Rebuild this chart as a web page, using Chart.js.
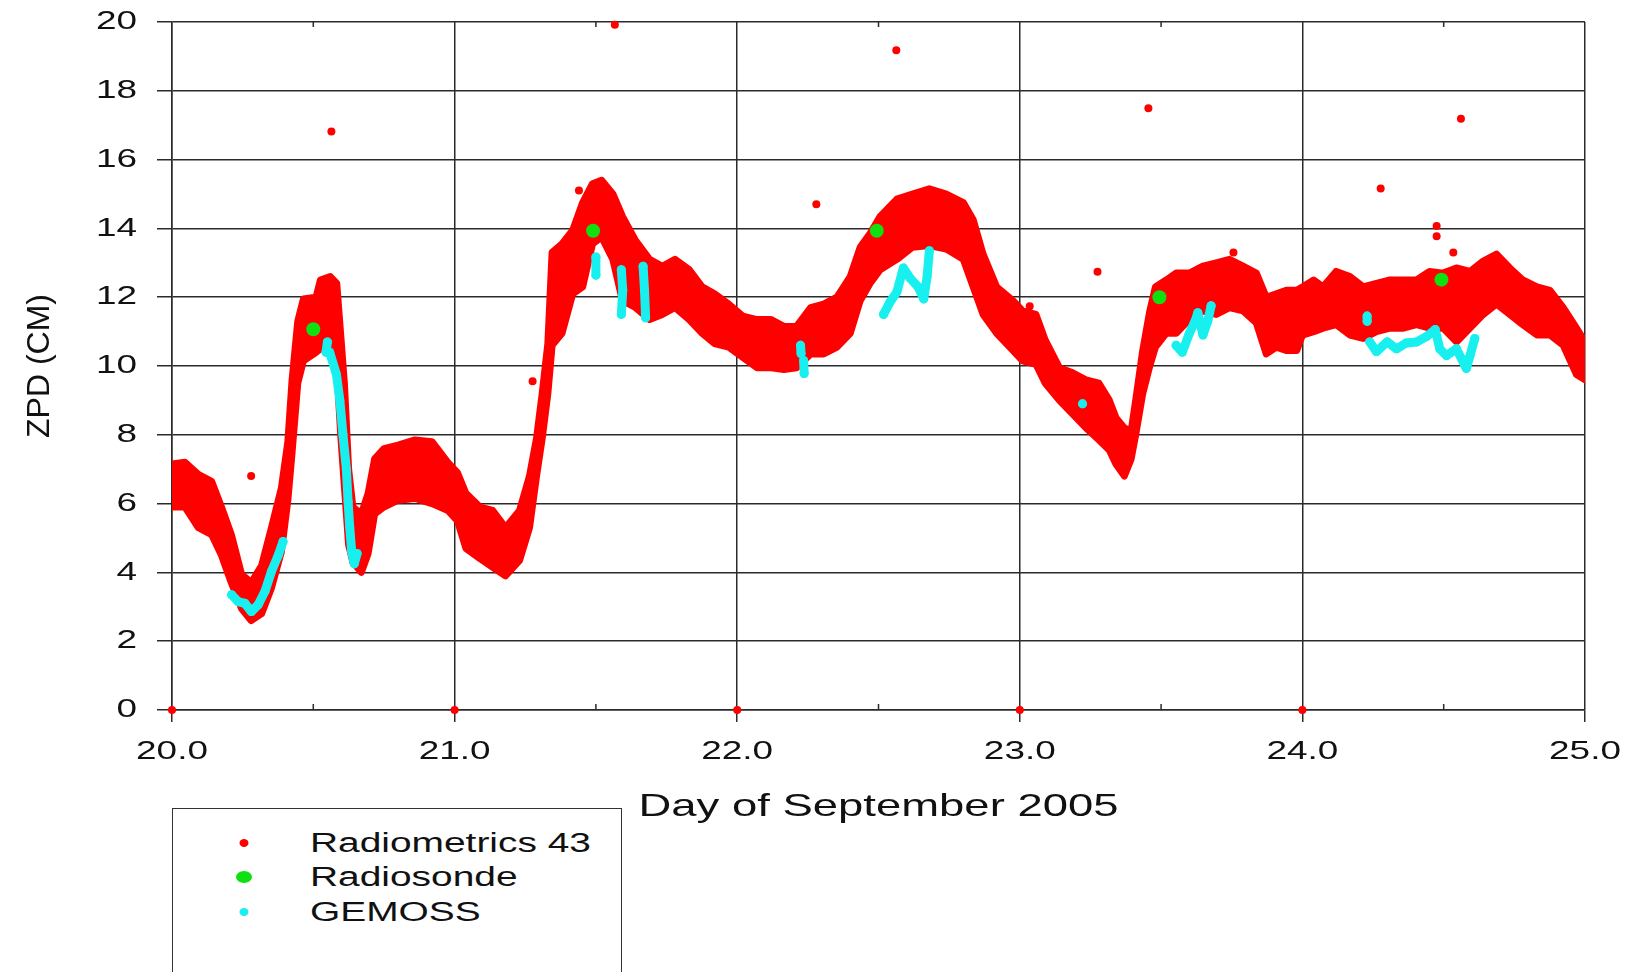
<!DOCTYPE html>
<html>
<head>
<meta charset="utf-8">
<title>ZPD - September 2005</title>
<script src="https://cdn.jsdelivr.net/npm/chart.js@4.4.1/dist/chart.umd.min.js"></script>
<style>
  body { margin: 0; background: #fff; overflow: hidden; }
  #wrap { position: relative; width: 1634px; height: 972px; }
  .legend-box {
    position: absolute; left: 172px; top: 808px; width: 450px; height: 220px;
    border: 1.5px solid #333; box-sizing: border-box; background: #fff;
    font-family: "Liberation Sans", Arial, sans-serif; font-size: 27px; color: #111;
  }
  .legend-row { position: absolute; left: 0; height: 30px; width: 100%; }
  .legend-row .mark { position: absolute; border-radius: 50%; transform: translate(-50%, -50%); left: 71px; top: 15px; }
  .legend-row .txt { position: absolute; left: 137px; top: 0; line-height: 30px; transform: scaleX(1.44); transform-origin: left center; white-space: nowrap; }
</style>
</head>
<body>
<div id="wrap">
  <canvas id="zpdChart" width="1634" height="972"></canvas>
  <div class="legend-box">
    <div class="legend-row" style="top:19px"><span class="mark" style="width:9px;height:8px;background:#ff0000"></span><span class="txt">Radiometrics 43</span></div>
    <div class="legend-row" style="top:53px"><span class="mark" style="width:16px;height:12px;background:#10e010"></span><span class="txt">Radiosonde</span></div>
    <div class="legend-row" style="top:88px"><span class="mark" style="width:9px;height:8px;background:#18f0f0"></span><span class="txt">GEMOSS</span></div>
  </div>
</div>
<script>
// Radiometrics 43 band: upper / lower edge of the dense red point cloud
const ribbonDays = [20.0, 20.046, 20.093, 20.14, 20.175, 20.21, 20.246, 20.28, 20.317, 20.352,
  20.387, 20.41, 20.425, 20.445, 20.465, 20.51, 20.525, 20.56, 20.583, 20.597,
  20.61, 20.625, 20.64, 20.67, 20.694, 20.717, 20.75, 20.80, 20.86, 20.92,
  20.976, 21.01, 21.04, 21.09, 21.135, 21.18, 21.23, 21.265, 21.29, 21.31,
  21.33, 21.345, 21.38, 21.418, 21.453, 21.488, 21.52, 21.56, 21.594, 21.64,
  21.69, 21.735, 21.78, 21.83, 21.876, 21.92, 21.97, 22.02, 22.07, 22.12,
  22.165, 22.21, 22.26, 22.306, 22.353, 22.40, 22.435, 22.47, 22.506, 22.565,
  22.62, 22.68, 22.74, 22.80, 22.835, 22.87, 22.918, 22.976, 23.01, 23.057,
  23.09, 23.14, 23.187, 23.234, 23.28, 23.317, 23.34, 23.37, 23.394, 23.41,
  23.435, 23.46, 23.48, 23.518, 23.553, 23.60, 23.648, 23.695, 23.742, 23.79,
  23.837, 23.872, 23.908, 23.943, 23.98, 24.0, 24.04, 24.073, 24.12, 24.168,
  24.215, 24.262, 24.31, 24.357, 24.404, 24.45, 24.498, 24.545, 24.593, 24.64,
  24.687, 24.734, 24.78, 24.83, 24.876, 24.923, 24.97, 25.0];
const ribbonUpper = [7.15, 7.2, 6.85, 6.65, 5.9, 5.1, 3.95, 3.7, 4.2, 5.3,
  6.45, 7.8, 9.6, 11.3, 11.95, 12.0, 12.5, 12.6, 12.4, 10.9,
  9.5, 7.0, 5.9, 5.7, 6.3, 7.3, 7.6, 7.7, 7.85, 7.8,
  7.2, 6.9, 6.3, 5.9, 5.8, 5.3, 5.8, 6.8, 7.9, 9.2,
  10.65, 13.3, 13.55, 13.95, 14.75, 15.3, 15.4, 15.0, 14.35, 13.65,
  13.1, 12.9, 13.1, 12.8, 12.3, 12.1, 11.8, 11.45, 11.35, 11.35,
  11.15, 11.15, 11.7, 11.8, 12.0, 12.6, 13.45, 13.85, 14.35, 14.85,
  15.0, 15.15, 15.0, 14.75, 14.25, 13.25, 12.3, 11.9, 11.6, 11.5,
  10.75, 9.95, 9.8, 9.6, 9.5, 9.0, 8.5, 8.2, 8.1, 9.0,
  10.45, 11.6, 12.3, 12.5, 12.7, 12.7, 12.9, 13.0, 13.1, 12.9,
  12.7, 12.0, 12.1, 12.2, 12.2, 12.3, 12.5, 12.3, 12.75, 12.6,
  12.3, 12.4, 12.5, 12.5, 12.5, 12.75, 12.7, 12.85, 12.75, 13.05,
  13.25, 12.85, 12.5, 12.3, 12.2, 11.7, 11.1, 10.7];
const ribbonLower = [5.9, 5.9, 5.3, 5.1, 4.5, 3.7, 2.95, 2.6, 2.8, 3.55,
  4.6, 6.1, 7.5, 9.5, 10.15, 10.4, 10.5, 10.6, 10.0, 8.0,
  6.5, 4.8, 4.3, 4.0, 4.55, 5.7, 5.9, 6.1, 6.15, 6.0,
  5.8, 5.5, 4.7, 4.4, 4.15, 3.9, 4.35, 5.3, 6.8, 7.9,
  9.2, 10.6, 10.95, 12.1, 12.3, 13.55, 13.75, 13.1, 11.9, 11.7,
  11.35, 11.5, 11.7, 11.35, 10.95, 10.65, 10.55, 10.25, 9.95, 9.95,
  9.9, 9.95, 10.35, 10.35, 10.55, 10.95, 11.9, 12.4, 12.8, 13.1,
  13.45, 13.5, 13.4, 13.1, 12.3, 11.5, 10.95, 10.45, 10.15, 10.05,
  9.5, 9.0, 8.6, 8.2, 7.85, 7.55, 7.15, 6.8, 7.3, 8.0,
  9.2, 10.0, 10.55, 10.95, 10.95, 11.35, 11.6, 11.5, 11.7, 11.6,
  11.25, 10.35, 10.55, 10.45, 10.45, 10.9, 11.0, 11.1, 11.2, 10.9,
  10.8, 11.0, 11.1, 11.1, 11.2, 11.1, 11.1, 10.7, 11.1, 11.5,
  11.8, 11.5, 11.2, 10.9, 10.9, 10.6, 9.75, 9.6];

// Radiometrics 43 scattered points outside the band
const outlierDays = [20.0, 21.0, 22.0, 23.0, 24.0, 20.28, 20.564, 21.276, 21.44, 21.567,
  22.28, 22.54, 22.563, 23.035, 23.275, 23.455, 23.636, 23.756, 24.277, 24.475,
  24.475, 24.534, 24.561];
const outlierZpd = [0, 0, 0, 0, 0, 6.8, 16.82, 9.56, 15.1, 19.92,
  14.7, 14.6, 19.18, 11.74, 12.74, 17.49, 12.83, 13.3, 15.16, 14.07,
  13.77, 13.3, 17.19];

// Radiosonde launches
const sondeDays = [20.5, 21.49, 22.494, 23.494, 24.492];
const sondeZpd = [11.07, 13.93, 13.93, 12.0, 12.51];

// GEMOSS (null splits the separate runs)
const gemossDays = [20.211, 20.234, 20.258, 20.281, 20.305, 20.329, 20.352, 20.376, 20.393, null,
  20.55, 20.545, 20.558, 20.582, 20.594, 20.605, 20.617, 20.623, 20.629, 20.636, 20.645, 20.655, null,
  21.5, 21.5, null,
  21.59, 21.595, 21.59, null,
  21.667, 21.672, 21.676, null,
  22.224, 22.226, null,
  22.235, 22.237, null,
  22.518, 22.54, 22.565, 22.588, 22.612, 22.64, 22.66, 22.672, 22.68, null,
  23.222, null,
  23.553, 23.575, 23.6, 23.62, 23.63, 23.648, 23.665, 23.677, null,
  24.229, 24.229, null,
  24.238, 24.262, 24.3, 24.333, 24.368, 24.404, 24.44, 24.47, 24.486, 24.51, 24.545, 24.58, 24.593, 24.61];
const gemossZpd = [3.35, 3.15, 3.1, 2.86, 3.06, 3.45, 4.03, 4.5, 4.9, null,
  10.7, 10.4, 10.4, 9.75, 9.0, 8.0, 7.0, 6.07, 5.3, 4.6, 4.25, 4.55, null,
  13.17, 12.64, null,
  12.8, 12.2, 11.5, null,
  12.9, 12.2, 11.4, null,
  10.6, 10.36, null,
  10.16, 9.78, null,
  11.5, 11.85, 12.15, 12.85, 12.55, 12.3, 11.95, 12.6, 13.35, null,
  8.9, null,
  10.6, 10.4, 10.95, 11.3, 11.55, 10.9, 11.3, 11.75, null,
  11.45, 11.3, null,
  10.7, 10.42, 10.7, 10.5, 10.67, 10.7, 10.86, 11.06, 10.5, 10.3, 10.5, 9.93, 10.3, 10.8];

const xTicks = [20, 21, 22, 23, 24, 25];
const minorXTicks = [20.5, 21.5, 22.5, 23.5, 24.5];

const RED = '#ff0000';
const GREEN = '#10e010';
const CYAN = '#18f0f0';
const INK = '#111111';
const GRID = '#2b2b2b';
const FONT = '"Liberation Sans", Arial, sans-serif';
const TEXT_STRETCH = 1.42; // source lettering is drawn wide

const toPoints = (xs, ys) => xs.map((x, i) => ({ x: x, y: ys[i] }));

// widen horizontal lettering the way the original plot renders it
const wideText = {
  id: 'wideText',
  beforeInit(chart) {
    const ctx = chart.ctx;
    const fill = ctx.fillText.bind(ctx);
    ctx.fillText = (text, x, y) => {
      if (ctx.getTransform().b !== 0) return fill(text, x, y); // rotated title
      ctx.save();
      ctx.translate(x, y);
      ctx.scale(TEXT_STRETCH, 1);
      fill(text, 0, 0);
      ctx.restore();
    };
  }
};

// small half-day ticks on the top and bottom frame
const minorTicks = {
  id: 'minorTicks',
  afterDraw(chart) {
    const { ctx, chartArea, scales } = chart;
    ctx.save();
    ctx.strokeStyle = GRID;
    ctx.lineWidth = 1.5;
    minorXTicks.forEach(v => {
      const px = scales.x.getPixelForValue(v);
      ctx.beginPath();
      ctx.moveTo(px, chartArea.bottom);
      ctx.lineTo(px, chartArea.bottom - 6);
      ctx.moveTo(px, chartArea.top);
      ctx.lineTo(px, chartArea.top + 5);
      ctx.stroke();
    });
    ctx.restore();
  }
};

const whiteBg = {
  id: 'whiteBg',
  beforeDraw(chart) {
    const ctx = chart.ctx;
    ctx.save();
    ctx.fillStyle = '#fff';
    ctx.fillRect(0, 0, chart.width, chart.height);
    ctx.restore();
  }
};

new Chart(document.getElementById('zpdChart'), {
  type: 'scatter',
  data: {
    datasets: [
      {
        label: 'Radiosonde',
        data: toPoints(sondeDays, sondeZpd),
        backgroundColor: GREEN,
        borderWidth: 0,
        pointRadius: 7,
        order: 0
      },
      {
        label: 'GEMOSS',
        type: 'line',
        data: toPoints(gemossDays, gemossZpd),
        borderColor: CYAN,
        backgroundColor: CYAN,
        borderWidth: 9,
        borderCapStyle: 'round',
        borderJoinStyle: 'round',
        pointRadius: 4.5,
        pointBorderWidth: 0,
        spanGaps: false,
        fill: false,
        order: 1
      },
      {
        label: 'Radiometrics 43',
        data: toPoints(outlierDays, outlierZpd),
        backgroundColor: RED,
        borderWidth: 0,
        pointRadius: 4,
        clip: false,
        order: 2
      },
      {
        label: 'r43-upper',
        type: 'line',
        data: toPoints(ribbonDays, ribbonUpper),
        borderColor: RED,
        borderWidth: 7,
        borderJoinStyle: 'round',
        borderCapStyle: 'round',
        pointRadius: 0,
        fill: false,
        order: 3
      },
      {
        label: 'r43-lower',
        type: 'line',
        data: toPoints(ribbonDays, ribbonLower),
        borderColor: RED,
        backgroundColor: RED,
        borderWidth: 7,
        borderJoinStyle: 'round',
        borderCapStyle: 'round',
        pointRadius: 0,
        fill: '-1',
        order: 4
      }
    ]
  },
  options: {
    responsive: false,
    animation: false,
    devicePixelRatio: 1,
    layout: { padding: { left: 0, right: 49, top: 22, bottom: 142 } },
    plugins: {
      legend: { display: false },
      tooltip: { enabled: false }
    },
    scales: {
      x: {
        type: 'linear',
        min: 20,
        max: 25,
        afterBuildTicks: axis => { axis.ticks = xTicks.map(v => ({ value: v })); },
        afterFit: axis => { axis.height = 120; axis.paddingLeft = 0; axis.paddingRight = 0; },
        ticks: {
          color: INK,
          font: { family: FONT, size: 26 },
          padding: 14,
          maxRotation: 0,
          callback: v => Number(v).toFixed(1)
        },
        grid: { color: GRID, lineWidth: 1.5, tickLength: 12 },
        border: { color: GRID, width: 1.5 },
        title: {
          display: true,
          text: 'Day of September 2005',
          color: INK,
          font: { family: FONT, size: 32 },
          padding: { top: 0, bottom: 4 }
        }
      },
      y: {
        min: 0,
        max: 20,
        afterFit: axis => { axis.width = 172; axis.paddingTop = 0; axis.paddingBottom = 0; },
        ticks: {
          stepSize: 2,
          color: INK,
          font: { family: FONT, size: 26 },
          padding: 20
        },
        grid: { color: GRID, lineWidth: 1.5, tickLength: 15 },
        border: { color: GRID, width: 1.5 },
        title: {
          display: true,
          text: 'ZPD (CM)',
          color: INK,
          font: { family: FONT, size: 32 },
          padding: { top: 21, bottom: 0 }
        }
      }
    }
  },
  plugins: [whiteBg, wideText, minorTicks]
});
</script>
</body>
</html>
